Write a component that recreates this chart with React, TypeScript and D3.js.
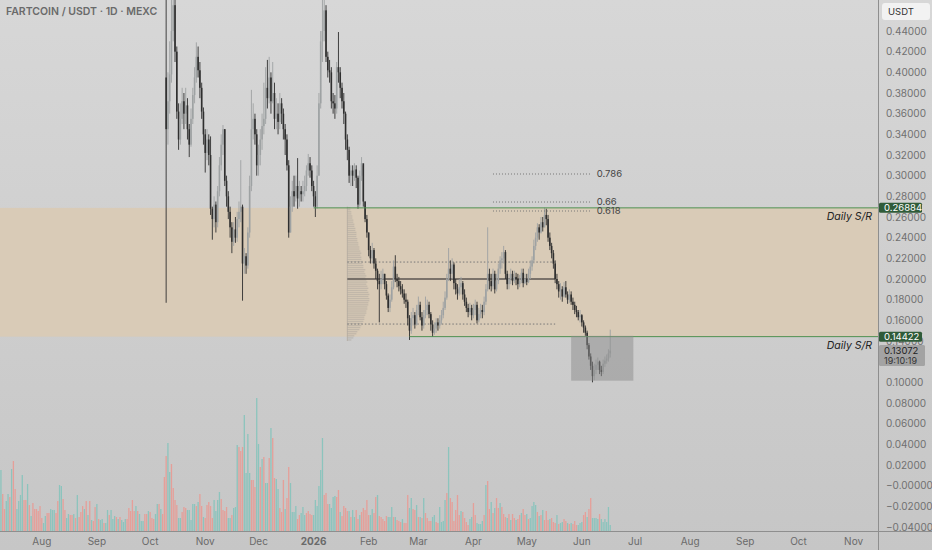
import * as d3 from 'd3';

const W = 932;
const H = 550;
const PANE_R = 878;
const PANE_B = 531;
const FONT = 'Inter, "Noto Sans", sans-serif';

// daily candles, first one is the Oct 10 2025 flush
const candleStart = Date.UTC(2025, 9, 10);
const firstOpen = 0.395;
const closes = [
  0.345, 0.372, 0.398, 0.44, 0.465, 0.42, 0.362, 0.335, 0.355, 0.372,
  0.36, 0.368, 0.345, 0.33, 0.355, 0.378, 0.395, 0.415, 0.402, 0.385,
  0.362, 0.34, 0.322, 0.335, 0.32, 0.268, 0.258, 0.272, 0.255, 0.285,
  0.31, 0.33, 0.345, 0.295, 0.28, 0.265, 0.25, 0.236, 0.248, 0.24,
  0.258, 0.265, 0.27, 0.215, 0.222, 0.213, 0.245, 0.29, 0.345, 0.355,
  0.34, 0.31, 0.32, 0.335, 0.348, 0.355, 0.385, 0.375, 0.395, 0.372,
  0.38, 0.355, 0.36, 0.352, 0.37, 0.36, 0.345, 0.335, 0.31, 0.245,
  0.27, 0.285, 0.28, 0.29, 0.278, 0.285, 0.282, 0.285, 0.29, 0.305,
  0.312, 0.305, 0.29, 0.28, 0.27, 0.3, 0.37, 0.43, 0.44, 0.46,
  0.415, 0.402, 0.4, 0.372, 0.37, 0.365, 0.405, 0.4, 0.385, 0.372,
  0.36, 0.335, 0.325, 0.3, 0.305, 0.3, 0.306, 0.298, 0.272, 0.3,
  0.312, 0.275, 0.258, 0.245, 0.228, 0.22, 0.228, 0.215, 0.208, 0.198,
  0.195, 0.2, 0.205, 0.195, 0.184, 0.172, 0.18, 0.192, 0.212, 0.2,
  0.198, 0.193, 0.19, 0.186, 0.18, 0.178, 0.162, 0.15, 0.162, 0.165,
  0.156, 0.17, 0.175, 0.163, 0.155, 0.165, 0.17, 0.175, 0.166, 0.156,
  0.148, 0.152, 0.158, 0.155, 0.16, 0.165, 0.172, 0.182, 0.2, 0.21,
  0.205, 0.214, 0.196, 0.19, 0.186, 0.192, 0.196, 0.185, 0.178, 0.172,
  0.168, 0.172, 0.165, 0.17, 0.175, 0.16, 0.166, 0.17, 0.168, 0.178,
  0.19, 0.205, 0.198, 0.193, 0.205, 0.19, 0.198, 0.21, 0.218, 0.22,
  0.226, 0.205, 0.195, 0.2, 0.205, 0.198, 0.202, 0.2, 0.195, 0.198,
  0.206, 0.196, 0.2, 0.197, 0.205, 0.212, 0.218, 0.232, 0.24, 0.25,
  0.245, 0.255, 0.25, 0.262, 0.258, 0.24, 0.232, 0.225, 0.215, 0.2,
  0.195, 0.188, 0.19, 0.183, 0.192, 0.185, 0.18, 0.185, 0.178, 0.175,
  0.17, 0.168, 0.163, 0.165, 0.158, 0.153, 0.148, 0.136, 0.125, 0.116,
  0.106, 0.112, 0.117, 0.12, 0.112, 0.11, 0.118, 0.121, 0.123, 0.128,
  0.1307,
];
const highs = [
  0.52, 0.4, 0.43, 0.47, 0.49, 0.47, 0.425, 0.37, 0.37, 0.385,
  0.38, 0.385, 0.375, 0.35, 0.365, 0.385, 0.405, 0.429, 0.425, 0.41,
  0.39, 0.366, 0.345, 0.345, 0.34, 0.338, 0.27, 0.28, 0.275, 0.29,
  0.318, 0.34, 0.349, 0.345, 0.3, 0.285, 0.27, 0.255, 0.255, 0.26,
  0.265, 0.275, 0.315, 0.272, 0.23, 0.225, 0.25, 0.3, 0.383, 0.37,
  0.36, 0.345, 0.33, 0.345, 0.36, 0.39, 0.405, 0.412, 0.415, 0.4,
  0.41, 0.39, 0.375, 0.37, 0.38, 0.375, 0.365, 0.35, 0.34, 0.315,
  0.28, 0.295, 0.3, 0.3, 0.317, 0.295, 0.29, 0.295, 0.3, 0.31,
  0.321, 0.318, 0.31, 0.295, 0.285, 0.31, 0.38, 0.44, 0.47, 0.48,
  0.465, 0.42, 0.412, 0.405, 0.38, 0.378, 0.41, 0.439, 0.405, 0.39,
  0.38, 0.362, 0.34, 0.328, 0.31, 0.31, 0.312, 0.31, 0.3, 0.305,
  0.318, 0.31, 0.275, 0.262, 0.245, 0.232, 0.235, 0.23, 0.22, 0.21,
  0.205, 0.208, 0.21, 0.205, 0.198, 0.186, 0.185, 0.198, 0.218, 0.223,
  0.205, 0.202, 0.198, 0.195, 0.19, 0.186, 0.18, 0.165, 0.168, 0.172,
  0.168, 0.175, 0.183, 0.178, 0.168, 0.17, 0.183, 0.18, 0.178, 0.168,
  0.16, 0.158, 0.162, 0.162, 0.165, 0.17, 0.178, 0.188, 0.205, 0.23,
  0.218, 0.22, 0.216, 0.2, 0.195, 0.2, 0.202, 0.198, 0.19, 0.182,
  0.176, 0.177, 0.175, 0.176, 0.18, 0.178, 0.172, 0.176, 0.175, 0.183,
  0.195, 0.25, 0.21, 0.205, 0.21, 0.208, 0.205, 0.215, 0.222, 0.226,
  0.232, 0.228, 0.208, 0.205, 0.21, 0.208, 0.208, 0.206, 0.205, 0.204,
  0.21, 0.21, 0.205, 0.205, 0.21, 0.218, 0.222, 0.238, 0.245, 0.254,
  0.253, 0.26, 0.26, 0.269, 0.268, 0.262, 0.245, 0.235, 0.228, 0.218,
  0.205, 0.198, 0.196, 0.193, 0.197, 0.198, 0.188, 0.19, 0.188, 0.182,
  0.178, 0.174, 0.17, 0.17, 0.166, 0.16, 0.155, 0.15, 0.138, 0.128,
  0.12, 0.118, 0.122, 0.124, 0.121, 0.116, 0.122, 0.125, 0.127, 0.132,
  0.151,
];
const lows = [
  0.177, 0.33, 0.36, 0.39, 0.43, 0.41, 0.355, 0.325, 0.33, 0.35,
  0.345, 0.35, 0.335, 0.318, 0.328, 0.35, 0.37, 0.39, 0.395, 0.375,
  0.355, 0.33, 0.303, 0.315, 0.31, 0.262, 0.238, 0.25, 0.245, 0.25,
  0.28, 0.305, 0.32, 0.29, 0.27, 0.258, 0.24, 0.225, 0.232, 0.235,
  0.236, 0.25, 0.255, 0.179, 0.205, 0.205, 0.21, 0.24, 0.285, 0.335,
  0.33, 0.3, 0.3, 0.31, 0.325, 0.34, 0.35, 0.365, 0.37, 0.36,
  0.37, 0.345, 0.345, 0.34, 0.345, 0.35, 0.335, 0.32, 0.305, 0.24,
  0.245, 0.265, 0.27, 0.275, 0.268, 0.27, 0.275, 0.275, 0.28, 0.285,
  0.3, 0.298, 0.285, 0.27, 0.26, 0.268, 0.3, 0.365, 0.41, 0.43,
  0.41, 0.395, 0.39, 0.365, 0.36, 0.355, 0.36, 0.39, 0.375, 0.365,
  0.35, 0.325, 0.315, 0.293, 0.29, 0.29, 0.295, 0.288, 0.268, 0.27,
  0.295, 0.27, 0.255, 0.24, 0.222, 0.215, 0.215, 0.21, 0.2, 0.19,
  0.158, 0.19, 0.195, 0.19, 0.18, 0.168, 0.168, 0.178, 0.19, 0.197,
  0.192, 0.188, 0.185, 0.182, 0.176, 0.172, 0.155, 0.141, 0.147, 0.155,
  0.152, 0.155, 0.165, 0.16, 0.15, 0.152, 0.162, 0.165, 0.162, 0.15,
  0.144, 0.146, 0.148, 0.15, 0.152, 0.156, 0.162, 0.17, 0.18, 0.198,
  0.198, 0.2, 0.19, 0.185, 0.18, 0.184, 0.185, 0.18, 0.174, 0.168,
  0.163, 0.165, 0.16, 0.162, 0.165, 0.157, 0.158, 0.162, 0.162, 0.165,
  0.175, 0.188, 0.19, 0.188, 0.19, 0.186, 0.188, 0.195, 0.205, 0.21,
  0.215, 0.2, 0.19, 0.19, 0.195, 0.194, 0.196, 0.194, 0.19, 0.192,
  0.196, 0.192, 0.195, 0.194, 0.196, 0.2, 0.208, 0.215, 0.228, 0.236,
  0.238, 0.244, 0.246, 0.25, 0.252, 0.236, 0.228, 0.22, 0.21, 0.196,
  0.19, 0.182, 0.18, 0.178, 0.182, 0.182, 0.176, 0.177, 0.175, 0.17,
  0.166, 0.163, 0.16, 0.158, 0.154, 0.148, 0.145, 0.132, 0.122, 0.112,
  0.1, 0.102, 0.108, 0.112, 0.108, 0.106, 0.108, 0.115, 0.118, 0.12,
  0.124,
];

// daily volume (M), positive = up day, negative = down day
const volumeStart = Date.UTC(2025, 6, 8);
const volumes = [
  35, 61, -37, -22, 30, 37, -34, 62, -70, -42,
  22, 30, 36, 56, -31, -31, 47, -26, 15, -28,
  -22, -22, -20, -25, -13, 8, 15, -18, -18, 22,
  21, 21, -18, -30, 46, 45, -32, -21, 13, 17,
  -16, -16, 17, -13, 36, -14, -19, -25, 22, -30,
  16, -30, 11, -10, -24, 27, -12, 11, 12, -8,
  8, 21, -16, 21, 12, 15, -14, 12, -14, 11,
  9, 12, -12, -23, -20, -31, -20, 25, -20, 17,
  10, 10, -17, -17, 20, -19, -13, -12, 17, 27,
  -27, 22, -17, -54, -75, 88, 59, -67, -43, -31,
  -26, 13, 13, -19, -24, -23, 21, 21, 11, 27,
  27, -25, 29, -37, -25, 14, -13, -26, -29, -25,
  -13, 31, 20, 31, 39, -32, -21, -20, -24, 13,
  13, -16, 23, 24, 86, -84, -80, -84, 116, 58,
  97, 58, -51, -51, -44, 133, 87, -64, 72, -74,
  48, 48, -73, 103, -93, -53, 52, 42, -23, -19,
  -51, 22, -33, -64, 48, 19, 19, 25, -12, -16,
  18, 24, 16, -18,
  -20, -17, -16, 16, 31, 25, 45, 61, 93, -36,
  -38, -27, 27, 23, 34, 35, -34, -41, 19, -15,
  -25, -23, -20, 20, -14, 21, 14, -21, -12, 16,
  -19, -23, -21, -31, -16, 16, 22, -18, -34, 36,
  -15, -14, -12, -10, -15, 14, 14, 24, -14, 14,
  -11, -10, -9, 12, -8, -8, -36, 23, 33, -22,
  -21, 26, -14, 14, -13, 33, -18, -13, -10, -10,
  14, 16, -9, -8, 24, 9, 10, 31, -38, 84,
  -33, -29, -10, -21, -36, -16, 20, -19, -13, -9,
  -6, 12, 14, -28, -16, 8, 7, 7, 10, -16,
  46, -50, -22, 29, -18, 23, -33, -23, 28, -24,
  -17, -14, 13, -17, 11, -17, -13, 11, -12, -16,
  18, -22, -16, 17, -12, 13, 25, 29, 26, -19,
  15, -16, 21, -11, -20, -11, 12, -13, -9, -8,
  16, -7, 8, 9, -12, -10, 8, -7, 8, -7,
  -10, -6, 6, 8, 9, -16, -19, 14, -22, -33,
  13, 13, 13, 12, -17, 12, 9, 12, 9, 24,
  6,
];

// fixed range volume profile Jan 20 - May 17
const profileFrom = Date.UTC(2026, 0, 20);
const profileTo = Date.UTC(2026, 4, 17);
const profileLow = 0.14;
const profileStep = 0.002;
const profileRows = [
  4, 6, 7, 9, 10, 12, 13, 14, 15, 16, 17, 17, 18, 19, 19, 20,
  20, 21, 21, 22, 22, 21, 22, 21, 20, 21, 20, 19, 20, 19, 18, 19,
  18, 17, 18, 16, 16, 15, 15, 14, 14, 13, 14, 13, 12, 12, 11, 11,
  10, 10, 9, 9, 9, 8, 8, 7, 7, 6, 6, 5, 5, 4, 4, 3, 3,
];
const pocPrice = 0.2;
const valueArea = [0.2164, 0.1564];

const srLevels = [
  { price: 0.26884, from: Date.UTC(2026, 0, 1) },
  { price: 0.14422, from: Date.UTC(2026, 1, 24) },
];
const fibFrom = Date.UTC(2026, 3, 12);
const fibTo = Date.UTC(2026, 5, 6);
const fibLevels = [
  { label: '0.786', price: 0.3016 },
  { label: '0.66', price: 0.2745 },
  { label: '0.618', price: 0.2658 },
];
const boxDates = [Date.UTC(2026, 4, 26), Date.UTC(2026, 5, 30)];
const boxPrices = [0.145, 0.1016];

const lastPrice = '0.13072';
const countdown = '19:10:19';

const DAY = 86400000;
const x = d3
  .scaleUtc()
  .domain([new Date(Date.UTC(2025, 7, 1)), new Date(Date.UTC(2026, 10, 1))])
  .range([41.8, 853.6]);
const y = d3.scaleLinear().domain([-0.04, 0.44]).range([527, 31]);
const vol = d3.scaleLinear().domain([0, 133]).range([PANE_B, 398]);

const fmtPrice = (v: number) =>
  (v < 0.001 ? '\u2212' : '') + Math.abs(v).toFixed(5);

export default function App() {
  const candles = closes.map((c, i) => {
    const o = i === 0 ? firstOpen : closes[i - 1];
    return { t: candleStart + i * DAY, o, h: highs[i], l: lows[i], c };
  });
  const priceTicks = d3.range(-0.04, 0.4401, 0.02);
  const months = d3.utcMonth.range(
    new Date(Date.UTC(2025, 7, 1)),
    new Date(Date.UTC(2026, 10, 2))
  );
  const px0 = x(new Date(profileFrom));
  const px1 = x(new Date(profileTo));
  const profW = d3.scaleLinear().domain([0, 22]).range([0, 22]);

  return (
    <svg
      width={W}
      height={H}
      style={{ position: 'fixed', left: 0, top: 0, display: 'block' }}
      fontFamily={FONT}
    >
      <defs>
        <linearGradient id='bg' x1='0' y1='0' x2='0' y2='1'>
          <stop offset='0' stopColor='#d7d7d7' />
          <stop offset='1' stopColor='#c6c6c6' />
        </linearGradient>
        <clipPath id='pane'>
          <rect x={0} y={0} width={PANE_R} height={PANE_B} />
        </clipPath>
      </defs>
      <rect width={W} height={H} fill='url(#bg)' />

      <g clipPath='url(#pane)'>
        {/* support / resistance band */}
        <rect
          x={0}
          y={y(srLevels[0].price)}
          width={PANE_R}
          height={y(srLevels[1].price) - y(srLevels[0].price)}
          fill='#d9cbb7'
        />

        {/* volume */}
        {volumes.map((v, i) => {
          const cx = x(new Date(volumeStart + i * DAY));
          return (
            <rect
              key={i}
              x={cx - 0.65}
              y={vol(Math.abs(v))}
              width={1.3}
              height={PANE_B - vol(Math.abs(v))}
              fill={v >= 0 ? '#8cc4bd' : '#e59f99'}
            />
          );
        })}

        {/* volume profile */}
        <line
          x1={px0}
          x2={px0}
          y1={y(0.27)}
          y2={y(0.14)}
          stroke='#b5ada2'
          opacity={0.8}
        />
        {profileRows.map((r, i) => {
          const p = profileLow + i * profileStep;
          return (
            <rect
              key={i}
              x={px0}
              y={y(p + profileStep) + 0.4}
              width={profW(r)}
              height={Math.max(0.6, y(p) - y(p + profileStep) - 0.8)}
              fill='#aaa49b'
              opacity={0.5}
            />
          );
        })}
        {valueArea.map((p, i) => (
          <line
            key={i}
            x1={px0}
            x2={px1}
            y1={y(p)}
            y2={y(p)}
            stroke='#777'
            strokeDasharray='1.5 2'
          />
        ))}
        <line
          x1={px0}
          x2={px1}
          y1={y(pocPrice)}
          y2={y(pocPrice)}
          stroke='#5a5550'
          strokeWidth={1.3}
        />

        {/* candles */}
        {candles.map((d, i) => {
          const cx = x(new Date(d.t));
          const up = d.c >= d.o;
          const col = up ? '#9ea2a3' : '#2f2f2f';
          const top = y(Math.max(d.o, d.c));
          const bot = y(Math.min(d.o, d.c));
          return (
            <g key={i}>
              <line
                x1={cx}
                x2={cx}
                y1={y(d.h)}
                y2={y(d.l)}
                stroke={col}
                strokeWidth={0.9}
              />
              <rect
                x={cx - 0.8}
                y={top}
                width={1.6}
                height={Math.max(1, bot - top)}
                fill={col}
              />
            </g>
          );
        })}

        {/* S/R lines */}
        {srLevels.map((s, i) => (
          <g key={i}>
            <line
              x1={x(new Date(s.from))}
              x2={PANE_R}
              y1={y(s.price)}
              y2={y(s.price)}
              stroke='#4f9150'
              strokeWidth={1}
            />
            <text
              x={872}
              y={y(s.price) + 12}
              textAnchor='end'
              fontSize={10.5}
              fontStyle='italic'
              fill='#222'
            >
              Daily S/R
            </text>
          </g>
        ))}

        {/* fib levels */}
        {fibLevels.map((f) => (
          <g key={f.label}>
            <line
              x1={x(new Date(fibFrom))}
              x2={x(new Date(fibTo))}
              y1={y(f.price)}
              y2={y(f.price)}
              stroke='#777'
              strokeDasharray='1 2'
            />
            <text
              x={x(new Date(fibTo)) + 6}
              y={y(f.price)}
              dy='0.35em'
              fontSize={9.5}
              fill='#444'
            >
              {f.label}
            </text>
          </g>
        ))}

        {/* highlight box */}
        <rect
          x={x(new Date(boxDates[0]))}
          y={y(boxPrices[0])}
          width={x(new Date(boxDates[1])) - x(new Date(boxDates[0]))}
          height={y(boxPrices[1]) - y(boxPrices[0])}
          fill='#8c8c8c'
          opacity={0.5}
        />
      </g>

      {/* title */}
      <text x={6} y={11} dy='0.35em' fontSize={10.5} fontWeight={600} fill='#6a6a6a'>
        FARTCOIN / USDT · 1D · MEXC
      </text>

      {/* axes lines */}
      <line x1={PANE_R + 0.5} x2={PANE_R + 0.5} y1={0} y2={H} stroke='#8e8e8e' />
      <line x1={0} x2={W} y1={PANE_B + 0.5} y2={PANE_B + 0.5} stroke='#8e8e8e' />

      {/* price axis */}
      <rect x={882} y={3} width={48} height={17} rx={3} fill='#f2f2f2' />
      <text x={888} y={11.5} dy='0.35em' fontSize={9.5} fill='#333'>
        USDT
      </text>
      {priceTicks.map((v) => (
        <text
          key={v.toFixed(2)}
          x={886}
          y={y(v)}
          dy='0.35em'
          fontSize={10}
          fill='#707070'
        >
          {fmtPrice(v)}
        </text>
      ))}
      {srLevels.map((s, i) => (
        <g key={i}>
          <rect
            x={879}
            y={y(s.price) - 5}
            width={43}
            height={10}
            rx={1.5}
            fill='#2f5b39'
          />
          <text
            x={884}
            y={y(s.price)}
            dy='0.35em'
            fontSize={9.5}
            fill='#fff'
          >
            {s.price.toFixed(5)}
          </text>
        </g>
      ))}
      <rect x={879} y={345} width={46} height={21} rx={1.5} fill='#a3a3a3' />
      <text x={884} y={350.5} dy='0.35em' fontSize={9.5} fill='#222'>
        {lastPrice}
      </text>
      <text x={884} y={360.5} dy='0.35em' fontSize={9} fill='#333'>
        {countdown}
      </text>

      {/* time axis */}
      {months.map((m) => {
        const jan = m.getUTCMonth() === 0;
        return (
          <text
            key={m.getTime()}
            x={x(m)}
            y={541}
            dy='0.35em'
            textAnchor='middle'
            fontSize={10}
            fontWeight={jan ? 700 : 400}
            fill='#6a6a6a'
          >
            {jan ? d3.utcFormat('%Y')(m) : d3.utcFormat('%b')(m)}
          </text>
        );
      })}
    </svg>
  );
}
